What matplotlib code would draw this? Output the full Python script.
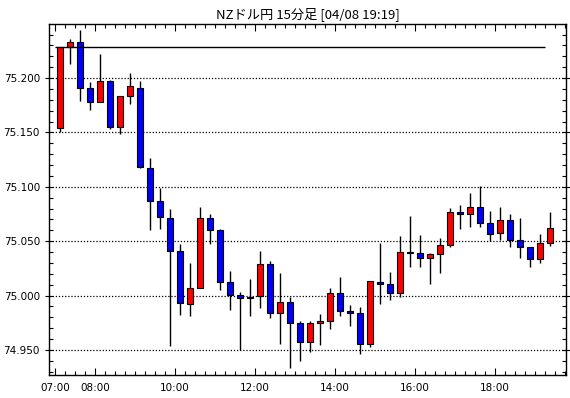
import matplotlib
matplotlib.use('Agg')
import matplotlib.pyplot as plt
from matplotlib.ticker import MultipleLocator, FixedLocator

# 15-minute candles from 07:00
opens = [75.154, 75.2288, 75.2331, 75.1908, 75.1779, 75.1972, 75.1547, 75.1835, 75.1908, 75.1173,
         75.0869, 75.0713, 75.0410, 74.9927, 75.0068, 75.0711, 75.0601, 75.0123, 75.0001, 74.9976,
         74.9994, 75.0289, 74.9838, 74.9939, 74.9746, 74.9572, 74.9746, 74.9765, 75.0022, 74.9857,
         74.9838, 74.9559, 75.0123, 75.0105, 75.0022, 75.0399, 75.0393, 75.0347, 75.0383, 75.0461,
         75.0771, 75.0753, 75.0816, 75.0663, 75.0572, 75.0699, 75.0509, 75.0443, 75.0337, 75.0482]
closes = [75.2285, 75.2331, 75.1908, 75.1779, 75.1972, 75.1547, 75.1835, 75.1926, 75.1182, 75.0866,
          75.0722, 75.0410, 74.9932, 75.0068, 75.0711, 75.0601, 75.0123, 75.0004, 74.9976, 74.9991,
          75.0289, 74.9838, 74.9939, 74.9746, 74.9572, 74.9746, 74.9765, 75.0022, 74.9857, 74.9838,
          74.9559, 75.0135, 75.0105, 75.0022, 75.0399, 75.0393, 75.0347, 75.0384, 75.0464, 75.0771,
          75.0753, 75.0816, 75.0663, 75.0563, 75.0699, 75.0509, 75.0443, 75.0337, 75.0482, 75.0617]
highs = [75.2285, 75.2362, 75.2438, 75.1966, 75.2224, 75.1985, 75.1835, 75.2049, 75.1972, 75.1268,
         75.0989, 75.0799, 75.0477, 75.0304, 75.0819, 75.0751, 75.0610, 75.0227, 75.0034, 75.0154,
         75.0411, 75.0316, 75.0209, 74.9985, 74.9765, 74.9765, 74.9832, 75.0071, 75.0172, 74.9915,
         74.9896, 75.0135, 75.0485, 75.0218, 75.0549, 75.0733, 75.0560, 75.0390, 75.0530, 75.0801,
         75.0831, 75.0946, 75.1009, 75.0774, 75.0819, 75.0747, 75.0711, 75.0443, 75.0566, 75.0771]
lows = [75.1507, 75.2126, 75.1786, 75.1703, 75.1779, 75.1528, 75.1488, 75.1758, 75.1170, 75.0600,
        75.0609, 74.9537, 74.9822, 74.9817, 75.0068, 75.0472, 75.0056, 74.9872, 74.9498, 74.9817,
        74.9890, 74.9792, 74.9559, 74.9330, 74.9403, 74.9483, 74.9550, 74.9691, 74.9817, 74.9718,
        74.9461, 74.9523, 74.9927, 74.9957, 74.9991, 75.0267, 75.0267, 75.0111, 75.0208, 75.0446,
        75.0614, 75.0627, 75.0633, 75.0503, 75.0515, 75.0446, 75.0346, 75.0265, 75.0301, 75.0455]
ref_level = 75.2285

hour_labels = ['07:00', '08:00', '10:00', '12:00', '14:00', '16:00', '18:00']
hour_pos = [0, 4, 12, 20, 28, 36, 44]  # in 15-minute steps from 07:00
title = 'NZドル円 15分足 [04/08 19:19]'

fig = plt.figure(figsize=(5.7, 3.98), dpi=100)
ax = fig.add_axes([49 / 570, 23 / 398, 517 / 570, 351 / 398])

x = [i + 0.5 for i in range(len(opens))]
colors = ['#ff0000' if c >= o else '#0000ff' for o, c in zip(opens, closes)]

ax.vlines(x, lows, highs, color='black', linewidth=1, zorder=2)
ax.bar(x, [c - o for o, c in zip(opens, closes)], bottom=opens, width=0.6,
       color=colors, edgecolor='black', linewidth=0.8, zorder=3)
ax.hlines(ref_level, 0, len(opens) - 1, color='black', linewidth=1, zorder=4)

ax.set_xlim(-0.6, 51.1)
ax.set_ylim(74.927, 75.2497)

ax.yaxis.set_major_locator(MultipleLocator(0.05))
ax.yaxis.set_minor_locator(MultipleLocator(0.01))
ax.yaxis.set_major_formatter(matplotlib.ticker.FormatStrFormatter('%.3f'))
ax.xaxis.set_major_locator(FixedLocator(hour_pos))
ax.xaxis.set_minor_locator(MultipleLocator(1))
ax.set_xticklabels(hour_labels)

ax.grid(axis='y', which='major', color='black', linestyle=(0, (1, 1.5)), linewidth=0.9)
ax.tick_params(which='both', direction='in', top=True, right=True, labelsize=7.5, colors='black', width=0.8)
ax.tick_params(which='major', length=5)
ax.tick_params(which='minor', length=3)
ax.tick_params(axis='y', which='major', direction='inout', length=6)
ax.tick_params(axis='x', pad=6)
for s in ax.spines.values():
    s.set_linewidth(1)

ax.set_title(title, fontsize=9.5, family=['Noto Sans CJK JP', 'DejaVu Sans'], pad=4)

fig.savefig('out.png', dpi=100)
